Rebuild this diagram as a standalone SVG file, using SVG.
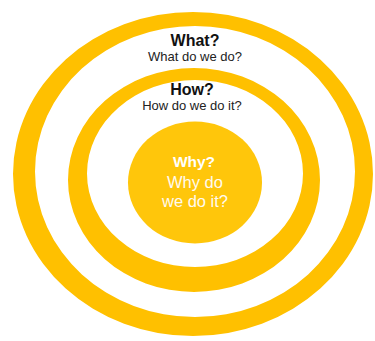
<svg xmlns="http://www.w3.org/2000/svg" width="375" height="341" viewBox="0 0 375 341">
<style>
.ring{fill:#FFC000;fill-rule:evenodd}
.core{fill:#FFC60B}
.h{font-family:"Liberation Sans",Arial,sans-serif;font-weight:bold;font-size:16px;fill:#111;text-anchor:middle}
.s{font-family:"Liberation Sans",Arial,sans-serif;font-size:13px;fill:#222;text-anchor:middle}
.hw{font-family:"Liberation Sans",Arial,sans-serif;font-weight:bold;font-size:15.5px;fill:#fff;text-anchor:middle}
.sw{font-family:"Liberation Sans",Arial,sans-serif;font-size:16.5px;fill:#fffaf0;text-anchor:middle}
</style>
<rect width="375" height="341" fill="#fff"/>
<g id="what">
<path class="ring" d="M 13 174 A 180 162 0 1 0 373 174 A 180 162 0 1 0 13 174 Z M 35 171.5 A 160 145.5 0 1 0 355 171.5 A 160 145.5 0 1 0 35 171.5 Z"/>
<text class="h" x="195" y="46">What?</text>
<text class="s" x="195" y="61">What do we do?</text>
</g>
<g id="how">
<path class="ring" d="M 68 180 A 126 112 0 1 0 320 180 A 126 112 0 1 0 68 180 Z M 87 173.5 A 108 93.5 0 1 0 303 173.5 A 108 93.5 0 1 0 87 173.5 Z"/>
<text class="h" x="192" y="95">How?</text>
<text class="s" x="192" y="110">How do we do it?</text>
</g>
<g id="why">
<ellipse class="core" cx="195" cy="182.5" rx="67" ry="61"/>
<text class="hw" x="194" y="167">Why?</text>
<text class="sw" x="195" y="188">Why do</text>
<text class="sw" x="195" y="207">we do it?</text>
</g>
<g id="connectors"/>
</svg>
